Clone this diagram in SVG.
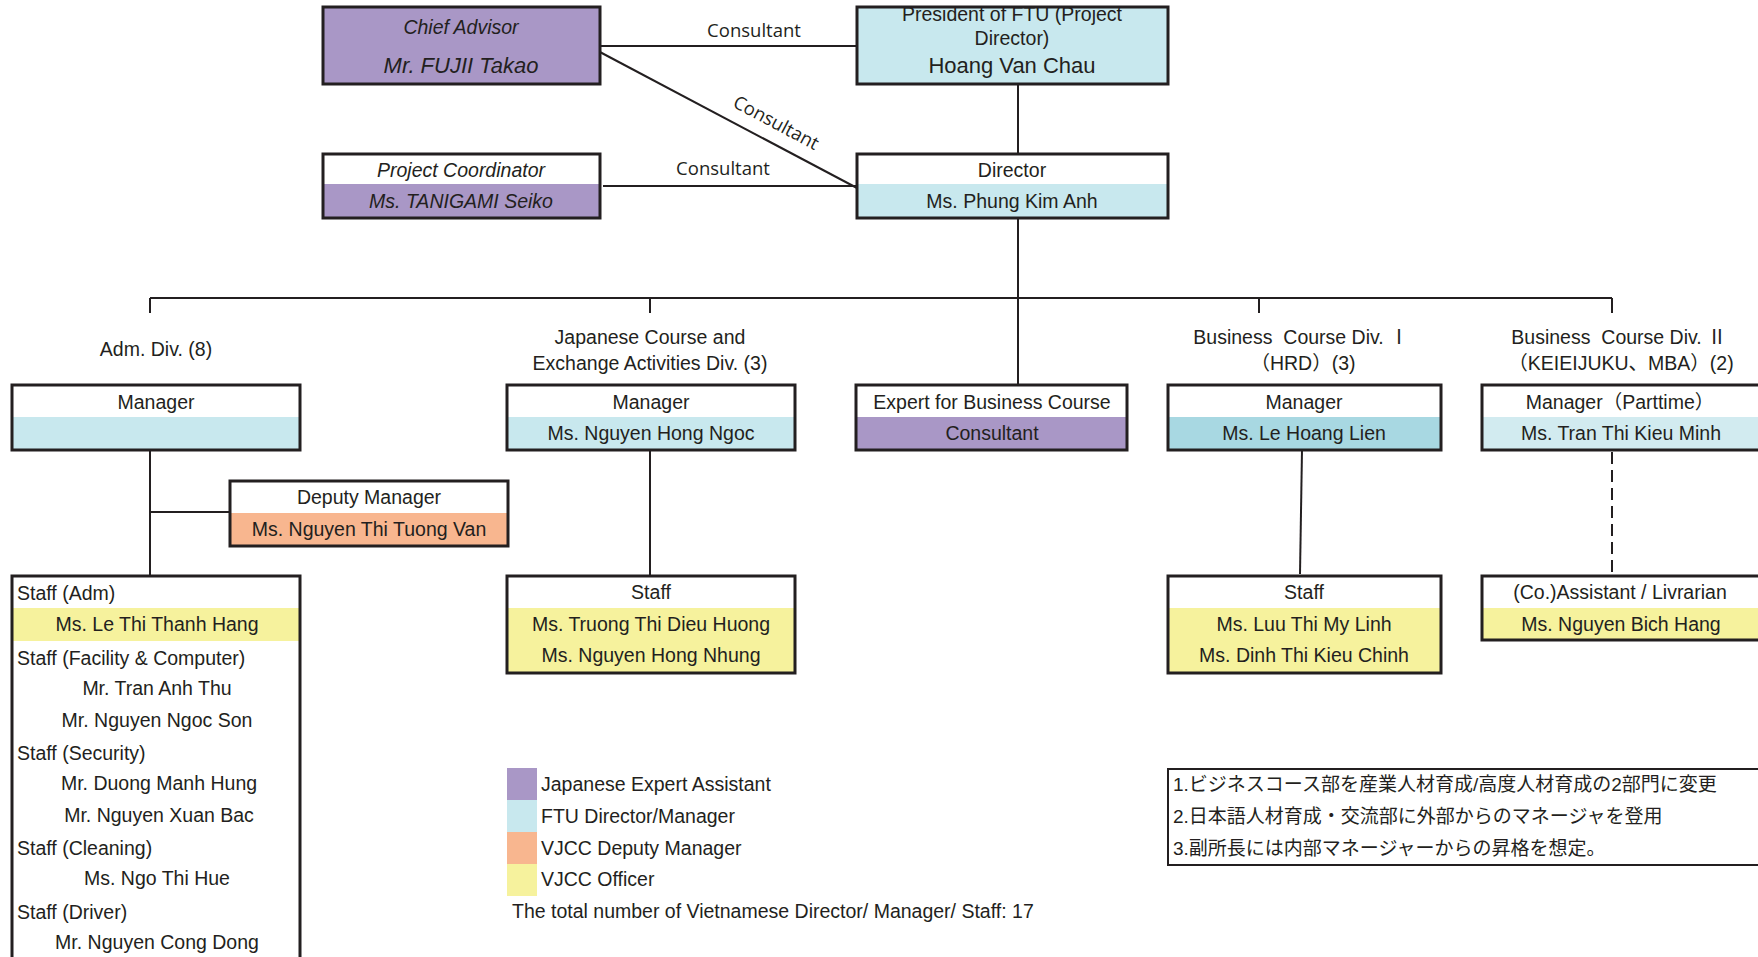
<svg xmlns="http://www.w3.org/2000/svg" width="1758" height="957" viewBox="0 0 1758 957">
<style>
.bd{fill:none;stroke:#231f20;stroke-width:3}
.t{font-family:"Liberation Sans","Noto Sans CJK JP",Arial,sans-serif;font-size:19.5px;fill:#231f20;text-anchor:middle;white-space:pre}
.big{font-size:22px}
.jp{font-size:19px}
.l{text-anchor:start}
.it{font-style:italic}
.cl{font-family:"Open Sans","Liberation Sans",sans-serif;font-size:18.5px;fill:#231f20;text-anchor:middle}
.c{fill:none;stroke:#231f20;stroke-width:2}
.pu{fill:#a997c6}.bl{fill:#c8e8ee}.or{fill:#f8b68f}.ye{fill:#f6f29d}
</style>
<rect width="1758" height="957" fill="#fff"/>
<g id="connectors">
<line class="c" x1="600" y1="46" x2="857" y2="46"/>
<line class="c" x1="598" y1="51" x2="857" y2="188" stroke-width="1.2"/>
<line class="c" x1="603" y1="186" x2="857" y2="186" stroke="#6d6e71" stroke-width="1.5"/>
<line class="c" x1="1018" y1="84" x2="1018" y2="154"/>
<line class="c" x1="1018" y1="218" x2="1018" y2="385"/>
<line class="c" x1="150" y1="298" x2="1612" y2="298"/>
<line class="c" x1="150" y1="298" x2="150" y2="313"/>
<line class="c" x1="650" y1="298" x2="650" y2="313"/>
<line class="c" x1="1259" y1="298" x2="1259" y2="313"/>
<line class="c" x1="1612" y1="298" x2="1612" y2="313"/>
<line class="c" x1="150" y1="450" x2="150" y2="576"/>
<line class="c" x1="150" y1="512" x2="230" y2="512"/>
<line class="c" x1="650" y1="450" x2="650" y2="576"/>
<line class="c" x1="1302" y1="450" x2="1300" y2="574" stroke="#6d6e71" stroke-width="1.2"/>
<line class="c" x1="1612" y1="452" x2="1612" y2="576" stroke-width="3" stroke-dasharray="12 6"/>
<text class="cl" x="754" y="37">Consultant</text>
<text class="cl" transform="translate(776,123) rotate(28)" y="6">Consultant</text>
<text class="cl" x="723" y="175">Consultant</text>
</g>
<g id="chief-advisor">
<rect class="pu" x="323" y="7" width="277" height="77"/>
<text class="t it" x="461" y="33.5">Chief Advisor</text>
<text class="t it big" x="461" y="73">Mr. FUJII Takao</text>
<rect class="bd" x="323" y="7" width="277" height="77"/>
</g>
<g id="president">
<rect class="bl" x="857" y="7" width="311" height="77"/>
<text class="t" x="1012" y="21">President of FTU (Project</text>
<text class="t" x="1012" y="45">Director)</text>
<text class="t big" x="1012" y="72.5">Hoang Van Chau</text>
<rect x="850" y="0" width="325" height="6" fill="#fff"/>
<rect class="bd" x="857" y="7" width="311" height="77"/>
</g>
<g id="project-coordinator">
<rect class="pu" x="323" y="184" width="277" height="34"/>
<text class="t it" x="461" y="177">Project Coordinator</text>
<text class="t it" x="461" y="208">Ms. TANIGAMI Seiko</text>
<rect class="bd" x="323" y="154" width="277" height="64"/>
</g>
<g id="director">
<rect class="bl" x="857" y="184" width="311" height="34"/>
<text class="t" x="1012" y="177">Director</text>
<text class="t" x="1012" y="208">Ms. Phung Kim Anh</text>
<rect class="bd" x="857" y="154" width="311" height="64"/>
</g>
<g id="div-labels">
<text class="t" x="156" y="356">Adm. Div. (8)</text>
<text class="t" x="650" y="344">Japanese Course and</text>
<text class="t" x="650" y="370">Exchange Activities Div. (3)</text>
<text class="t" x="1301" y="344">Business  Course Div. Ⅰ</text>
<text class="t" x="1303" y="370">（HRD）(3)</text>
<text class="t" x="1619" y="344">Business  Course Div. Ⅱ</text>
<text class="t" x="1621" y="370">（KEIEIJUKU、MBA）(2)</text>
</g>
<g id="adm-manager">
<rect class="bl" x="12" y="417" width="288" height="33"/>
<text class="t" x="156" y="409">Manager</text>
<rect class="bd" x="12" y="385" width="288" height="65"/>
</g>
<g id="jap-manager">
<rect class="bl" x="507" y="417" width="288" height="33"/>
<text class="t" x="651" y="409">Manager</text>
<text class="t" x="651" y="440">Ms. Nguyen Hong Ngoc</text>
<rect class="bd" x="507" y="385" width="288" height="65"/>
</g>
<g id="expert">
<rect class="pu" x="856" y="417" width="271" height="33"/>
<text class="t" x="992" y="409">Expert for Business Course</text>
<text class="t" x="992" y="440">Consultant</text>
<rect class="bd" x="856" y="385" width="271" height="65"/>
</g>
<g id="bus1-manager">
<rect x="1168" y="417" width="273" height="33" fill="#a8d8e2"/>
<text class="t" x="1304" y="409">Manager</text>
<text class="t" x="1304" y="440">Ms. Le Hoang Lien</text>
<rect class="bd" x="1168" y="385" width="273" height="65"/>
</g>
<g id="bus2-manager">
<rect x="1482" y="417" width="290" height="33" fill="#d2ebf0"/>
<text class="t" x="1620" y="409">Manager（Parttime）</text>
<text class="t" x="1621" y="440">Ms. Tran Thi Kieu Minh</text>
<rect class="bd" x="1482" y="385" width="290" height="65"/>
</g>
<g id="deputy-manager">
<rect class="or" x="230" y="513" width="278" height="33"/>
<text class="t" x="369" y="504">Deputy Manager</text>
<text class="t" x="369" y="536">Ms. Nguyen Thi Tuong Van</text>
<rect class="bd" x="230" y="481" width="278" height="65"/>
</g>
<g id="adm-staff">
<rect class="ye" x="12" y="608" width="288" height="33"/>
<text class="t l" x="17" y="600">Staff (Adm)</text>
<text class="t" x="157" y="631">Ms. Le Thi Thanh Hang</text>
<text class="t l" x="17" y="665">Staff (Facility &amp; Computer)</text>
<text class="t" x="157" y="695">Mr. Tran Anh Thu</text>
<text class="t" x="157" y="727">Mr. Nguyen Ngoc Son</text>
<text class="t l" x="17" y="760">Staff (Security)</text>
<text class="t" x="159" y="790">Mr. Duong Manh Hung</text>
<text class="t" x="159" y="822">Mr. Nguyen Xuan Bac</text>
<text class="t l" x="17" y="855">Staff (Cleaning)</text>
<text class="t" x="157" y="885">Ms. Ngo Thi Hue</text>
<text class="t l" x="17" y="919">Staff (Driver)</text>
<text class="t" x="157" y="949">Mr. Nguyen Cong Dong</text>
<rect class="bd" x="12" y="576" width="288" height="400"/>
</g>
<g id="jap-staff">
<rect class="ye" x="507" y="608" width="288" height="65"/>
<text class="t" x="651" y="599">Staff</text>
<text class="t" x="651" y="631">Ms. Truong Thi Dieu Huong</text>
<text class="t" x="651" y="662">Ms. Nguyen Hong Nhung</text>
<rect class="bd" x="507" y="576" width="288" height="97"/>
</g>
<g id="bus1-staff">
<rect class="ye" x="1168" y="608" width="273" height="65"/>
<text class="t" x="1304" y="599">Staff</text>
<text class="t" x="1304" y="631">Ms. Luu Thi My Linh</text>
<text class="t" x="1304" y="662">Ms. Dinh Thi Kieu Chinh</text>
<rect class="bd" x="1168" y="576" width="273" height="97"/>
</g>
<g id="bus2-assistant">
<rect class="ye" x="1482" y="608" width="290" height="32"/>
<text class="t" x="1620" y="599">(Co.)Assistant / Livrarian</text>
<text class="t" x="1621" y="631">Ms. Nguyen Bich Hang</text>
<rect class="bd" x="1482" y="576" width="290" height="64"/>
</g>
<g id="legend">
<rect class="pu" x="507" y="768" width="30" height="32"/>
<rect class="bl" x="507" y="800" width="30" height="32"/>
<rect class="or" x="507" y="832" width="30" height="32"/>
<rect class="ye" x="507" y="864" width="30" height="32"/>
<text class="t l" x="541" y="791">Japanese Expert Assistant</text>
<text class="t l" x="541" y="823">FTU Director/Manager</text>
<text class="t l" x="541" y="855">VJCC Deputy Manager</text>
<text class="t l" x="541" y="886">VJCC Officer</text>
<text class="t l" x="512" y="918">The total number of Vietnamese Director/ Manager/ Staff: 17</text>
</g>
<g id="notes">
<text class="t l jp" x="1173" y="791">1.ビジネスコース部を産業人材育成/高度人材育成の2部門に変更</text>
<text class="t l jp" x="1173" y="823">2.日本語人材育成・交流部に外部からのマネージャを登用</text>
<text class="t l jp" x="1173" y="855">3.副所長には内部マネージャーからの昇格を想定。</text>
<rect x="1168" y="769" width="600" height="96" fill="none" stroke="#231f20" stroke-width="2"/>
</g>
</svg>
